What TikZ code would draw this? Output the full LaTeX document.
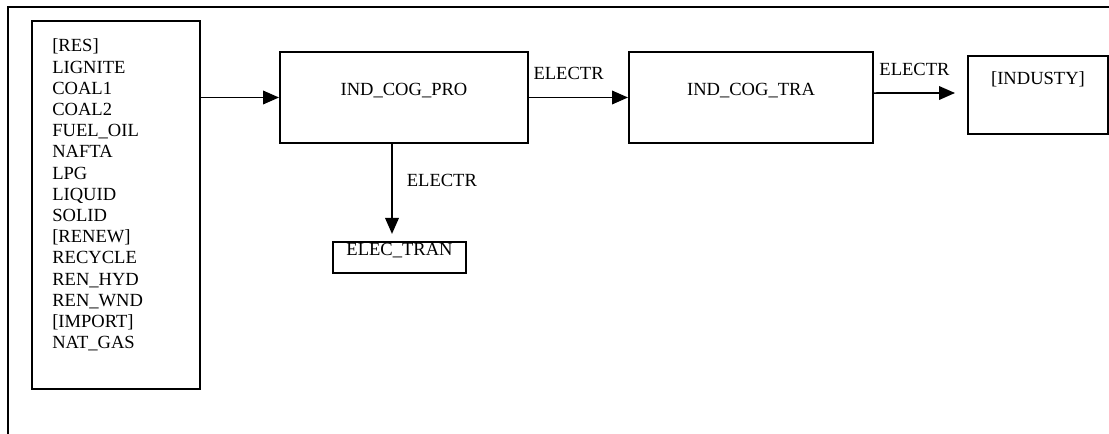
\documentclass[tikz,border=0pt]{standalone}
\usepackage{fontspec}
\setmainfont{Liberation Serif}
\usepackage{tikz}
\usetikzlibrary{arrows.meta,positioning}

\begin{document}
\begin{tikzpicture}[box/.style={draw, line width=1.4pt, inner sep=0pt, font=\fontsize{13.2}{15.07}\selectfont},
  lbl/.style={inner sep=0pt, font=\fontsize{13.2}{15.07}\selectfont},
  arr/.style={line width=1.2pt, -{Triangle[length=0.4cm, width=0.34cm]}}]
\useasboundingbox (0,0) rectangle (27.725,10.85);
\draw[line width=1.4pt] (0.21,0) -- (0.21,10.685) -- (27.725,10.685);
\node[box, minimum width=4.2cm, minimum height=9.2cm] (src) at (2.9,5.725) {};
\node[lbl, align=left, below right=0.47cm and 0.525cm of src.north west] (srclist) {[RES]\\LIGNITE\\COAL1\\COAL2\\FUEL\_OIL\\NAFTA\\LPG\\LIQUID\\SOLID\\[0pt][RENEW]\\RECYCLE\\REN\_HYD\\REN\_WND\\[0pt][IMPORT]\\NAT\_GAS};
\node[box, minimum width=6.2cm, minimum height=2.275cm, text height=0.35cm, text depth=0.47cm] (pro) at (10.1,8.4125) {IND\_COG\_PRO};
\node[box, minimum width=6.1cm, minimum height=2.275cm, text height=0.35cm, text depth=0.47cm] (tra) at (18.775,8.4125) {IND\_COG\_TRA};
\node[box, minimum width=3.5cm, minimum height=1.95cm, text height=0.35cm, text depth=0.85cm] (ind) at (25.95,8.475) {[INDUSTY]};
\node[box, minimum width=3.325cm, minimum height=0.775cm, text height=0.35cm, text depth=0.43cm] (elec) at (9.9875,4.4125) {ELEC\_TRAN};
\draw[arr] (src.east |- pro.west) -- (pro.west);
\draw[arr] (pro.east) -- (tra.west) node[lbl, pos=0.4, above=0.42cm] {ELECTR};
\draw[arr] ([yshift=0.11cm]tra.east) -- ([xshift=-0.3cm, yshift=0.05cm]ind.west) node[lbl, midway, above=0.42cm] {ELECTR};
\draw[arr] ([xshift=-0.3cm]pro.south) -- ([xshift=-0.1875cm, yshift=0.175cm]elec.north) node[lbl, pos=0.4, right=0.35cm] {ELECTR};
\end{tikzpicture}
\end{document}
